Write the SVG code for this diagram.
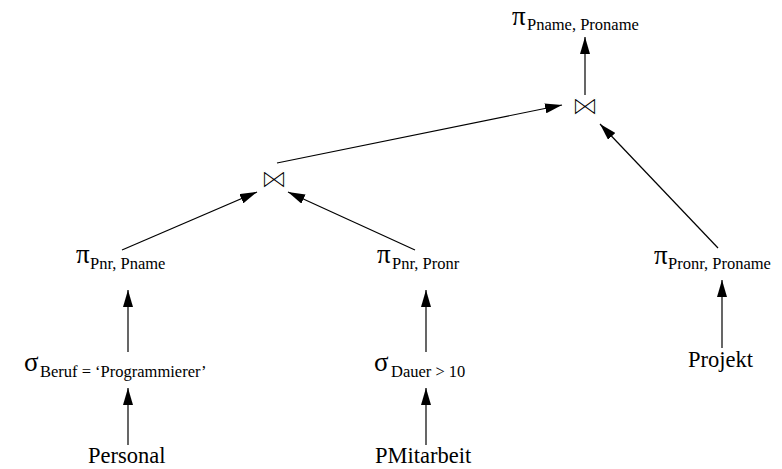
<svg xmlns="http://www.w3.org/2000/svg" width="782" height="469" viewBox="0 0 782 469">
<style>
text{font-family:"Liberation Serif","Times New Roman",serif;fill:#000}
.big{font-size:27px}
.sub{font-size:16.5px}
.name{font-size:22.5px}
.op{font-family:"DejaVu Sans",sans-serif;font-size:27px;stroke:#fff;stroke-width:1.1}
.edge{stroke:#000;stroke-width:1.2;fill:none;marker-end:url(#ah)}
</style>
<defs>
<marker id="ah" markerUnits="userSpaceOnUse" markerWidth="18" markerHeight="10" refX="17" refY="5" orient="auto">
<path d="M0,0 L17,5 L0,10 z" fill="#000"/>
</marker>
</defs>
<rect width="782" height="469" fill="#fff"/>
<g id="connectors">
<line class="edge" x1="128" y1="445" x2="128" y2="388"/>
<line class="edge" x1="128" y1="352" x2="128" y2="290"/>
<line class="edge" x1="426" y1="445" x2="426" y2="388"/>
<line class="edge" x1="426" y1="352" x2="426" y2="290"/>
<line class="edge" x1="722" y1="348" x2="722" y2="280"/>
<line class="edge" x1="122" y1="250" x2="257" y2="192"/>
<line class="edge" x1="415" y1="250" x2="288" y2="192"/>
<line class="edge" x1="277" y1="163" x2="562" y2="105"/>
<line class="edge" x1="718" y1="248" x2="600" y2="124"/>
<line class="edge" x1="585" y1="95" x2="585" y2="37"/>
</g>
<g id="proj_top">
<text class="big" x="512" y="24.5">π</text><text class="sub" x="527" y="30">Pname, Proname</text>
</g>
<g id="join_top"><text class="op" x="585" y="115" text-anchor="middle">⋈</text></g>
<g id="join_left"><text class="op" x="274" y="188" text-anchor="middle">⋈</text></g>
<g id="proj_pnr_pname">
<text class="big" x="76" y="263">π</text><text class="sub" x="90" y="269">Pnr, Pname</text>
</g>
<g id="proj_pnr_pronr">
<text class="big" x="377" y="263">π</text><text class="sub" x="392" y="269">Pnr, Pronr</text>
</g>
<g id="proj_pronr_proname">
<text class="big" x="654" y="264">π</text><text class="sub" x="668" y="269">Pronr, Proname</text>
</g>
<g id="sel_beruf">
<text class="big" x="24" y="371">σ</text><text class="sub" x="40" y="377">Beruf = ‘Programmierer’</text>
</g>
<g id="sel_dauer">
<text class="big" x="374" y="371">σ</text><text class="sub" x="391" y="377">Dauer &gt; 10</text>
</g>
<g id="personal"><text class="name" x="88" y="463">Personal</text></g>
<g id="pmitarbeit"><text class="name" x="375" y="463">PMitarbeit</text></g>
<g id="projekt"><text class="name" x="688" y="367">Projekt</text></g>
</svg>
